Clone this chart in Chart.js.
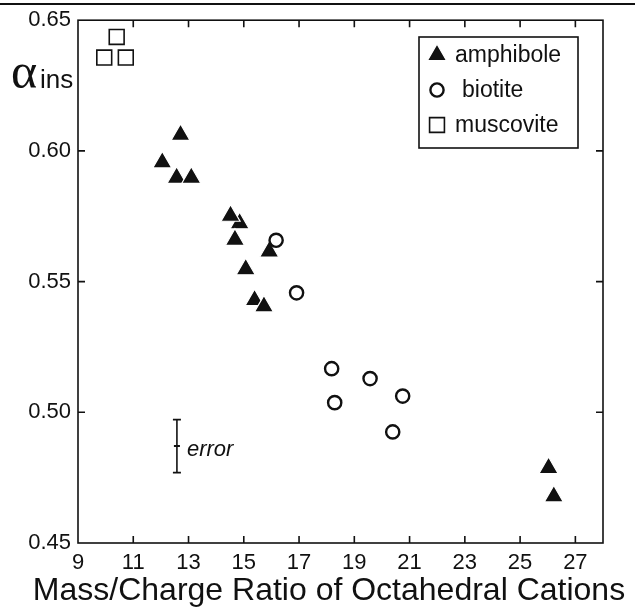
<!DOCTYPE html>
<html>
<head>
<meta charset="utf-8">
<script src="https://cdn.jsdelivr.net/npm/chart.js@4.4.0/dist/chart.umd.min.js"></script>
<style>
  html, body { margin: 0; padding: 0; background: #fff; }
  #wrap { width: 635px; height: 610px; }
</style>
</head>
<body>
<div id="wrap"><canvas id="chart" width="635" height="610"></canvas></div>
<script>
// ---- data ----
const AMPH_X = [12.71, 12.05, 12.57, 13.10, 14.85, 14.52, 14.68, 15.92, 15.07, 15.39, 15.73, 26.03, 26.22];
const AMPH_Y = [0.6061, 0.5956, 0.5897, 0.5897, 0.5723, 0.5752, 0.5660, 0.5615, 0.5547, 0.5429, 0.5405, 0.4787, 0.4678];
const BIOT_X = [16.17, 16.91, 18.18, 19.57, 18.29, 20.75, 20.39];
const BIOT_Y = [0.5658, 0.5457, 0.5167, 0.5129, 0.5037, 0.5062, 0.4925];
const MUSC_X = [10.40, 9.95, 10.73];
const MUSC_Y = [0.6436, 0.6357, 0.6357];
const ERR_X = 12.58;
const ERR_Y = [0.4972, 0.4871, 0.4769];
const X_TICKS = [9, 11, 13, 15, 17, 19, 21, 23, 25, 27];
const Y_TICKS = [0.45, 0.50, 0.55, 0.60, 0.65];
const X_MIN = 9, X_MAX = 28, Y_MIN = 0.45, Y_MAX = 0.65;

const INK = '#111111';
const SANS = "'Liberation Sans', Arial, sans-serif";
const SERIF = "'Liberation Serif', 'Times New Roman', serif";
const TICK_LEN = 7;

function pares(xs, ys) { return xs.map(function (x, i) { return { x: x, y: ys[i] }; }); }

// box, inward ticks and the scan line on top
function drawFrame(chart) {
  const ctx = chart.ctx, a = chart.chartArea, sx = chart.scales.x, sy = chart.scales.y;
  ctx.save();
  ctx.strokeStyle = INK;
  ctx.lineWidth = 1.6;
  ctx.strokeRect(a.left, a.top, a.right - a.left, a.bottom - a.top);
  ctx.beginPath();
  X_TICKS.forEach(function (v) {
    const px = sx.getPixelForValue(v);
    if (px <= a.left + 1 || px >= a.right - 1) return;
    ctx.moveTo(px, a.bottom); ctx.lineTo(px, a.bottom - TICK_LEN);
    ctx.moveTo(px, a.top); ctx.lineTo(px, a.top + TICK_LEN);
  });
  Y_TICKS.forEach(function (v) {
    const py = sy.getPixelForValue(v);
    if (py <= a.top + 1 || py >= a.bottom - 1) return;
    ctx.moveTo(a.left, py); ctx.lineTo(a.left + TICK_LEN, py);
    ctx.moveTo(a.right, py); ctx.lineTo(a.right - TICK_LEN, py);
  });
  ctx.stroke();
  ctx.lineWidth = 2;
  ctx.beginPath(); ctx.moveTo(0, 4); ctx.lineTo(635, 4); ctx.stroke();
  ctx.restore();
}

function marker(ctx, ds, x, y) {
  ctx.fillStyle = ds.backgroundColor;
  ctx.strokeStyle = ds.borderColor;
  ctx.lineWidth = ds.borderWidth;
  const opts = { pointStyle: ds.pointStyle, radius: ds.pointRadius, rotation: 0, borderWidth: ds.borderWidth };
  if (window.Chart && Chart.helpers && Chart.helpers.drawPoint) {
    Chart.helpers.drawPoint(ctx, opts, x, y);
  }
}

function drawLegend(chart) {
  const ctx = chart.ctx;
  const rows = [55, 90, 125];
  const textDx = [0, 7, 0];
  ctx.save();
  ctx.fillStyle = '#fff';
  ctx.fillRect(419, 37, 159, 111);
  ctx.strokeStyle = INK;
  ctx.lineWidth = 1.6;
  ctx.strokeRect(419, 37, 159, 111);
  ctx.font = '23px ' + SANS;
  ctx.textBaseline = 'middle';
  ctx.textAlign = 'left';
  for (let i = 0; i < 3; i++) {
    const ds = chart.data.datasets[i];
    marker(ctx, ds, 437, rows[i]);
    ctx.fillStyle = INK;
    ctx.fillText(ds.label, 455 + textDx[i], rows[i] + 1);
  }
  ctx.restore();
}

function drawTexts(chart) {
  const ctx = chart.ctx;
  ctx.save();
  ctx.fillStyle = INK;
  ctx.textBaseline = 'alphabetic';
  ctx.textAlign = 'left';
  // y title: alpha + "ins"
  ctx.font = '50px ' + SERIF;
  ctx.fillText('\u03B1', 11, 88);
  ctx.font = '26px ' + SANS;
  ctx.fillText('ins', 40, 88);
  // x title
  ctx.font = '32px ' + SANS;
  ctx.textAlign = 'center';
  ctx.fillText('Mass/Charge Ratio of Octahedral Cations', 329, 600);
  // error label next to the error bar
  const meta = chart.getDatasetMeta(3);
  const mid = meta.data[1];
  if (mid) {
    ctx.font = 'italic 22px ' + SANS;
    ctx.textAlign = 'left';
    ctx.fillText('error', mid.x + 10, mid.y + 10);
  }
  ctx.restore();
}

const decor = {
  id: 'decor',
  beforeDatasetsDraw: function (chart) { drawFrame(chart); },
  afterDraw: function (chart) { drawLegend(chart); drawTexts(chart); }
};

new Chart(document.getElementById('chart'), {
  type: 'scatter',
  data: {
    datasets: [
      {
        label: 'amphibole', data: pares(AMPH_X, AMPH_Y), order: 1,
        pointStyle: 'triangle', pointRadius: 11,
        backgroundColor: INK, borderColor: '#ffffff', borderWidth: 1.2,
        pointBackgroundColor: INK, pointBorderColor: '#ffffff', pointBorderWidth: 1.2
      },
      {
        label: 'biotite', data: pares(BIOT_X, BIOT_Y), order: 0,
        pointStyle: 'circle', pointRadius: 6.6,
        backgroundColor: '#ffffff', borderColor: INK, borderWidth: 2.4,
        pointBackgroundColor: '#ffffff', pointBorderColor: INK, pointBorderWidth: 2.4
      },
      {
        label: 'muscovite', data: pares(MUSC_X, MUSC_Y), order: 2,
        pointStyle: 'rect', pointRadius: 10.5,
        backgroundColor: '#ffffff', borderColor: INK, borderWidth: 1.6,
        pointBackgroundColor: '#ffffff', pointBorderColor: INK, pointBorderWidth: 1.6
      },
      {
        label: 'error', data: ERR_Y.map(function (y) { return { x: ERR_X, y: y }; }), order: 3,
        showLine: true, borderColor: INK, borderWidth: 1.6,
        pointStyle: 'line', pointRadius: [4, 3, 4], pointBorderColor: INK, pointBorderWidth: 1.8
      }
    ]
  },
  options: {
    responsive: false,
    animation: false,
    devicePixelRatio: 1,
    layout: { padding: { left: 0, top: 14, right: 32, bottom: 0 } },
    plugins: { legend: { display: false }, tooltip: { enabled: false } },
    scales: {
      x: {
        type: 'linear', min: X_MIN, max: X_MAX,
        afterBuildTicks: function (s) { s.ticks = X_TICKS.map(function (v) { return { value: v }; }); },
        afterFit: function (s) { s.height = 67; },
        grid: { display: false, drawTicks: false },
        border: { display: false },
        ticks: { color: INK, padding: 7, maxRotation: 0, autoSkip: false, font: { family: SANS, size: 22 } }
      },
      y: {
        type: 'linear', min: Y_MIN, max: Y_MAX,
        afterBuildTicks: function (s) { s.ticks = Y_TICKS.map(function (v) { return { value: v }; }); },
        afterFit: function (s) { s.width = 78; },
        grid: { display: false, drawTicks: false },
        border: { display: false },
        ticks: { color: INK, padding: 7, font: { family: SANS, size: 22 },
          callback: function (v) { return Number(v).toFixed(2); } }
      }
    }
  },
  plugins: [decor]
});
</script>
</body>
</html>
